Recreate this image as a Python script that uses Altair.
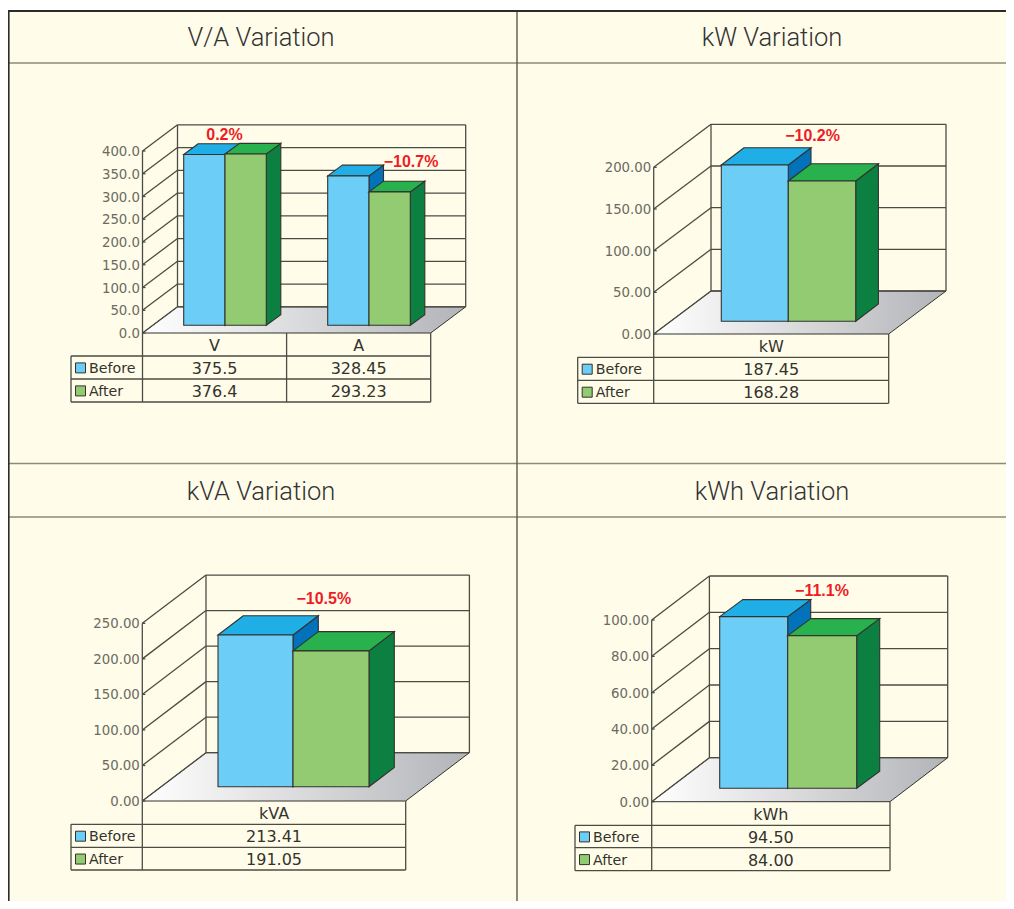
import altair as alt
import pandas as pd

# ---- values ----
SERIES = ["Before", "After"]

TITLE_VA = "V/A Variation"
CATS_VA = ["V", "A"]
BEFORE_VA = [375.5, 328.45]
AFTER_VA = [376.4, 293.23]
CHANGE_VA = ["0.2%", "−10.7%"]
TICKS_VA = [0, 50, 100, 150, 200, 250, 300, 350, 400]
TICKFMT_VA = "{:.1f}"
TEXT_BEFORE_VA = ["375.5", "328.45"]
TEXT_AFTER_VA = ["376.4", "293.23"]

TITLE_KW = "kW Variation"
CATS_KW = ["kW"]
BEFORE_KW = [187.45]
AFTER_KW = [168.28]
CHANGE_KW = ["−10.2%"]
TICKS_KW = [0, 50, 100, 150, 200]
TICKFMT_KW = "{:.2f}"
TEXT_BEFORE_KW = ["187.45"]
TEXT_AFTER_KW = ["168.28"]

TITLE_KVA = "kVA Variation"
CATS_KVA = ["kVA"]
BEFORE_KVA = [213.41]
AFTER_KVA = [191.05]
CHANGE_KVA = ["−10.5%"]
TICKS_KVA = [0, 50, 100, 150, 200, 250]
TICKFMT_KVA = "{:.2f}"
TEXT_BEFORE_KVA = ["213.41"]
TEXT_AFTER_KVA = ["191.05"]

TITLE_KWH = "kWh Variation"
CATS_KWH = ["kWh"]
BEFORE_KWH = [94.50]
AFTER_KWH = [84.00]
CHANGE_KWH = ["−11.1%"]
TICKS_KWH = [0, 20, 40, 60, 80, 100]
TICKFMT_KWH = "{:.2f}"
TEXT_BEFORE_KWH = ["94.50"]
TEXT_AFTER_KWH = ["84.00"]

# ---- colours and fonts ----
CREAM = "#fffce9"
FRONT = {"Before": "#6ccef6", "After": "#93cb73"}
TOP = {"Before": "#20aee6", "After": "#28b14c"}
SIDE = {"Before": "#0272bb", "After": "#0c8040"}
EDGE = "#33332e"
GRID = "#4c4c44"
RULE = "#8d8b76"
NUM_FONT = "DejaVu Sans"
RED = "#ee1c25"

# ---- page frame and layout of each panel, in page pixels ----
PAGE_X = (8, 998)
PAGE_Y = (8, 893)
PANELS = [
    dict(title=TITLE_VA, cats=CATS_VA, before=BEFORE_VA, after=AFTER_VA, change=CHANGE_VA,
         ticks=TICKS_VA, fmt=TICKFMT_VA, tb=TEXT_BEFORE_VA, ta=TEXT_AFTER_VA,
         tx=261, ty=37, ly=63,
         x0=142.5, xr=430.7, base=333, k=0.455, dx=35, dy=26.2,
         bars=[(183.7, 225, 266.3), (327.7, 369, 410.3)], lift=7.7, sdx=14.5, sdy=10.7,
         rows=(356, 379, 402), left=71, lab=[(224.5, 134), (411, 161)]),
    dict(title=TITLE_KW, cats=CATS_KW, before=BEFORE_KW, after=AFTER_KW, change=CHANGE_KW,
         ticks=TICKS_KW, fmt=TICKFMT_KW, tb=TEXT_BEFORE_KW, ta=TEXT_AFTER_KW,
         tx=772, ty=37, ly=63,
         x0=653.7, xr=888.7, base=334, k=0.8335, dx=57.3, dy=43,
         bars=[(721.3, 788.3, 855.7)], lift=12.7, sdx=22.7, sdy=17.3,
         rows=(357.3, 380.3, 403.3), left=577.7, lab=[(812.5, 134.7)]),
    dict(title=TITLE_KVA, cats=CATS_KVA, before=BEFORE_KVA, after=AFTER_KVA, change=CHANGE_KVA,
         ticks=TICKS_KVA, fmt=TICKFMT_KVA, tb=TEXT_BEFORE_KVA, ta=TEXT_AFTER_KVA,
         tx=261, ty=491, ly=517,
         x0=142.3, xr=405.7, base=801, k=0.7107, dx=63.7, dy=48.3,
         bars=[(218, 293, 369)], lift=14.3, sdx=25.3, sdy=19.3,
         rows=(824.3, 847.3, 870), left=71, lab=[(323.8, 598.3)]),
    dict(title=TITLE_KWH, cats=CATS_KWH, before=BEFORE_KWH, after=AFTER_KWH, change=CHANGE_KWH,
         ticks=TICKS_KWH, fmt=TICKFMT_KWH, tb=TEXT_BEFORE_KWH, ta=TEXT_AFTER_KWH,
         tx=772, ty=491, ly=517,
         x0=651.7, xr=890, base=801.7, k=1.817, dx=57.7, dy=44,
         bars=[(719.7, 787.7, 856.7)], lift=13.4, sdx=23, sdy=17,
         rows=(825.3, 847.7, 870.7), left=575, lab=[(822, 590)]),
]

px0, pw = PAGE_X
py0, ph = PAGE_Y


def panel(p, with_frame):
    k, base = p["k"], p["base"]
    x0, xr, dx, dy = p["x0"], p["xr"], p["dx"], p["dy"]
    dyv = dy / k                 # wall depth expressed in axis units
    lift = p["lift"] / k         # how far the bars stand back from the front edge
    sdy = p["sdy"] / k
    sdx = p["sdx"]

    def Y(py):                   # page row -> axis units, for items placed off the data
        return (base - py) / k

    sx = alt.Scale(domain=[px0, px0 + pw], range=[0, pw], nice=False, zero=False)
    sy = alt.Scale(domain=[Y(py0 + ph), Y(py0)], range=[ph, 0], nice=False, zero=False)
    X = alt.X("x:Q", scale=sx, axis=None)
    Yc = alt.Y("y:Q", scale=sy, axis=None)

    def rules(rows, color, width):
        return alt.Chart(pd.DataFrame(rows, columns=["x", "y", "x2", "y2"])).mark_rule(
            color=color, strokeWidth=width
        ).encode(X, Yc, x2="x2:Q", y2="y2:Q")

    layers = []
    if with_frame:
        right, bottom = px0 + pw, py0 + ph
        layers.append(
            alt.Chart(pd.DataFrame([dict(x=px0, x2=right, y=Y(11), y2=Y(bottom))])).mark_rect(
                color=CREAM, strokeWidth=0
            ).encode(X, Yc, x2="x2:Q", y2="y2:Q")
        )
        layers.append(rules([(px0, Y(63), right, Y(63)), (px0, Y(517), right, Y(517)),
                             (px0, Y(463.5), right, Y(463.5))], RULE, 1.4))
        layers.append(rules([(517, Y(11), 517, Y(bottom))], "#5c5b50", 1.4))
        layers.append(rules([(8.5, Y(10), 8.5, Y(bottom)), (px0, Y(11), right, Y(11))], "#2b2b28", 2.2))
    # title
    layers.append(
        alt.Chart(pd.DataFrame([dict(x=p["tx"], y=Y(p["ty"]), t=p["title"])])).mark_text(
            font="Roboto", fontWeight=300, fontSize=25.5, color="#333333", baseline="middle", align="center", dy=1
        ).encode(X, Yc, text="t:N")
    )
    # floor
    floor = pd.DataFrame([dict(y=0.0, x=x0, x2=xr), dict(y=dyv, x=x0 + dx, x2=xr + dx)])
    layers.append(
        alt.Chart(floor).mark_area(
            orient="horizontal",
            fill={"gradient": "linear", "x1": 0, "x2": 1, "y1": 0, "y2": 0,
                  "stops": [{"offset": 0, "color": "#ffffff"}, {"offset": 1, "color": "#b3b4b8"}]},
            stroke=EDGE, strokeWidth=1,
        ).encode(X, Yc, x2="x2:Q")
    )
    # walls, grid, ticks
    top = p["ticks"][-1]
    grid = [(x0, 0, x0, top), (x0 + dx, dyv, x0 + dx, top + dyv), (xr + dx, dyv, xr + dx, top + dyv)]
    for v in p["ticks"]:
        grid.append((x0, v, x0 + dx, v + dyv))
        grid.append((x0 + dx, v + dyv, xr + dx, v + dyv))
        grid.append((x0, v, x0 + 3, v))
    layers.append(rules(grid, GRID, 1.3))
    # tick labels
    ticks = pd.DataFrame([dict(x=x0 - 2.5, y=v, t=p["fmt"].format(v)) for v in p["ticks"]])
    layers.append(
        alt.Chart(ticks).mark_text(
            font=NUM_FONT, fontSize=13.3, color="#6a6a62", align="right", baseline="middle", dy=1
        ).encode(X, Yc, text="t:N")
    )
    # bars: side, top then front for each series
    for si, (s, vals) in enumerate(zip(SERIES, (p["before"], p["after"]))):
        side, cap, front = [], [], []
        for ci, v in enumerate(vals):
            xa, xb = p["bars"][ci][si], p["bars"][ci][si + 1]
            side += [dict(k=ci, x=xb, y=lift, y2=v + lift),
                     dict(k=ci, x=xb + sdx, y=lift + sdy, y2=v + lift + sdy)]
            cap += [dict(k=ci, y=v + lift, x=xa, x2=xb),
                    dict(k=ci, y=v + lift + sdy, x=xa + sdx, x2=xb + sdx)]
            front.append(dict(x=xa, x2=xb, y=lift, y2=v + lift))
        layers.append(
            alt.Chart(pd.DataFrame(side)).mark_area(
                orient="vertical", fill=SIDE[s], stroke=EDGE, strokeWidth=1.1
            ).encode(X, Yc, y2="y2:Q", detail="k:N")
        )
        layers.append(
            alt.Chart(pd.DataFrame(cap)).mark_area(
                orient="horizontal", fill=TOP[s], stroke=EDGE, strokeWidth=1.1
            ).encode(X, Yc, x2="x2:Q", detail="k:N")
        )
        layers.append(
            alt.Chart(pd.DataFrame(front)).mark_rect(
                fill=FRONT[s], stroke=EDGE, strokeWidth=1.1
            ).encode(X, Yc, x2="x2:Q", y2="y2:Q")
        )
    # change labels
    labs = pd.DataFrame([dict(x=q[0], y=Y(q[1]), t=c) for q, c in zip(p["lab"], p["change"])])
    layers.append(
        alt.Chart(labs).mark_text(
            font="Liberation Sans", fontWeight="bold", fontSize=16, color=RED,
            align="center", baseline="middle", dy=1
        ).encode(X, Yc, text="t:N")
    )
    # data table
    r0, r1, r2 = p["rows"]
    left = p["left"]
    n = len(p["cats"])
    cols = [x0 + (xr - x0) * i / n for i in range(n + 1)]
    tbl = [(left, Y(r0), xr, Y(r0)), (left, Y(r1), xr, Y(r1)), (left, Y(r2), xr, Y(r2)),
           (left, Y(r0), left, Y(r2))]
    tbl += [(c, 0, c, Y(r2)) for c in cols]
    layers.append(rules(tbl, GRID, 1.3))
    cells = []
    rowmid = [(base + r0) / 2, (r0 + r1) / 2 + 0.4, (r1 + r2) / 2 + 0.4]
    for i in range(n):
        xc = (cols[i] + cols[i + 1]) / 2
        for ry, t in zip(rowmid, (p["cats"][i], p["tb"][i], p["ta"][i])):
            cells.append(dict(x=xc, y=Y(ry), t=t))
    layers.append(
        alt.Chart(pd.DataFrame(cells)).mark_text(
            font=NUM_FONT, fontSize=16, color="#33332e", align="center", baseline="middle", dy=1
        ).encode(X, Yc, text="t:N")
    )
    # series legend in the table
    names = pd.DataFrame([dict(x=left + 18, y=Y(rowmid[1]), t=SERIES[0]),
                          dict(x=left + 18, y=Y(rowmid[2]), t=SERIES[1])])
    layers.append(
        alt.Chart(names).mark_text(
            font=NUM_FONT, fontSize=14.2, color="#33332e", align="left", baseline="middle", dy=1
        ).encode(X, Yc, text="t:N")
    )
    for s, ry in zip(SERIES, rowmid[1:]):
        sw = pd.DataFrame([dict(x=left + 4.5, x2=left + 14.5, y=Y(ry - 5), y2=Y(ry + 5))])
        layers.append(
            alt.Chart(sw).mark_rect(fill=FRONT[s], stroke=EDGE, strokeWidth=1).encode(
                X, Yc, x2="x2:Q", y2="y2:Q"
            )
        )
    return alt.layer(*layers)


chart = (
    alt.layer(*[panel(p, i == 0) for i, p in enumerate(PANELS)])
    .resolve_scale(y="independent")
    .properties(width=pw, height=ph, padding=0, autosize=alt.AutoSizeParams(type="none"))
    .configure_view(stroke=None)
)

chart.save("out.html", embed_options={"renderer": "svg", "actions": False})
